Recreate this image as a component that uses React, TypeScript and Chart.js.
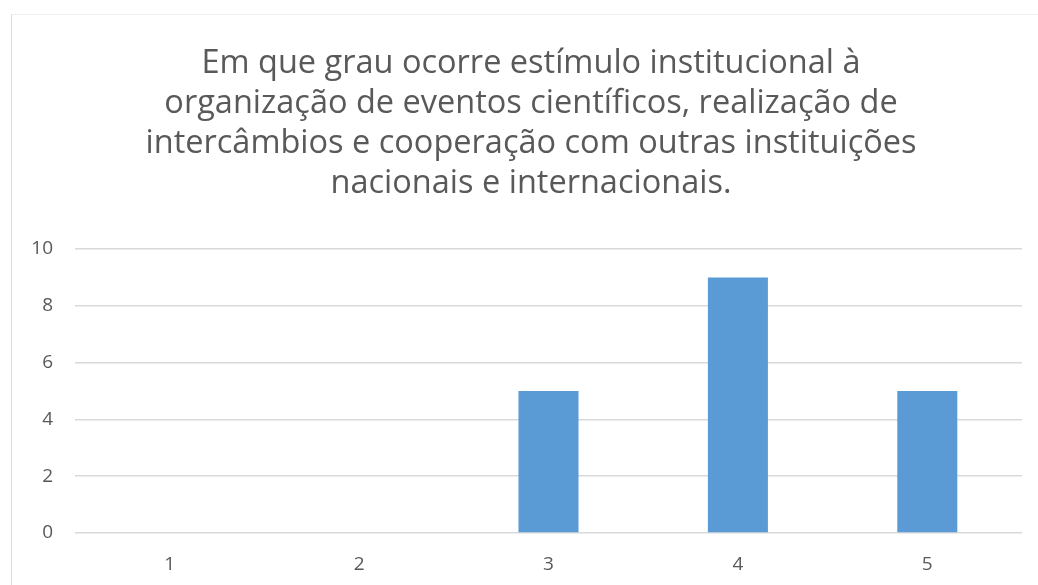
import React, { useEffect, useRef } from "react";
import { Chart, registerables } from "chart.js";

Chart.register(...registerables);

const titleLines: string[] = [
  "Em que grau ocorre estímulo institucional à",
  "organização de eventos científicos, realização de",
  "intercâmbios e cooperação com outras instituições",
  "nacionais e internacionais.",
];
const categories: string[] = ["1", "2", "3", "4", "5"];
const values: number[] = [0, 0, 5, 9, 5];
const yTicks: number[] = [0, 2, 4, 6, 8, 10];

const titlePlugin = {
  id: "customTitle",
  afterDraw(chart: any) {
    const ctx = chart.ctx;
    ctx.save();
    ctx.fillStyle = "#595959";
    ctx.font = "32.5px 'Open Sans'";
    ctx.textAlign = "center";
    ctx.textBaseline = "alphabetic";
    titleLines.forEach((line, i) => {
      ctx.fillText(line, 531, 73 + i * 40);
    });
    ctx.restore();
  },
};

export default function App() {
  const ref = useRef<HTMLCanvasElement | null>(null);
  useEffect(() => {
    document.body.style.margin = "0";
    if (!ref.current) return;
    const chart = new Chart(ref.current, {
      type: "bar",
      data: {
        labels: categories,
        datasets: [
          {
            data: values,
            backgroundColor: "#5b9bd5",
            borderWidth: 0,
            categoryPercentage: 1,
            barPercentage: 0.317,
          },
        ],
      },
      plugins: [titlePlugin],
      options: {
        animation: false,
        responsive: false,
        maintainAspectRatio: false,
        layout: { padding: { left: 12, right: 16, top: 249, bottom: 8 } },
        plugins: {
          legend: { display: false },
          tooltip: { enabled: false },
          title: { display: false },
        },
        scales: {
          x: {
            grid: { display: false, drawTicks: false },
            border: { display: false },
            ticks: { color: "#595959", font: { family: "Open Sans", size: 19 }, padding: 20 },
            afterFit: (scale: any) => {
              scale.height = 44;
            },
          },
          y: {
            min: 0,
            max: 10,
            afterBuildTicks: (scale: any) => {
              scale.ticks = yTicks.map((v) => ({ value: v }));
            },
            afterFit: (scale: any) => {
              scale.width = 63;
            },
            grid: { color: "#d9d9d9", lineWidth: 1.5, drawTicks: false },
            border: { display: false },
            ticks: { color: "#595959", font: { family: "Open Sans", size: 19 }, padding: 22 },
          },
        },
      },
    });
    return () => chart.destroy();
  }, []);
  return (
    <div style={{ position: "relative", width: 1038, height: 585, background: "#fff" }}>
      <div
        style={{
          position: "absolute",
          left: 11,
          top: 14,
          right: 0,
          bottom: 0,
          borderLeft: "1.5px solid #d9d9d9",
          borderTop: "1px solid #eeeeee",
        }}
      />
      <canvas ref={ref} width={1038} height={585} style={{ position: "absolute", left: 0, top: 0 }} />
    </div>
  );
}
